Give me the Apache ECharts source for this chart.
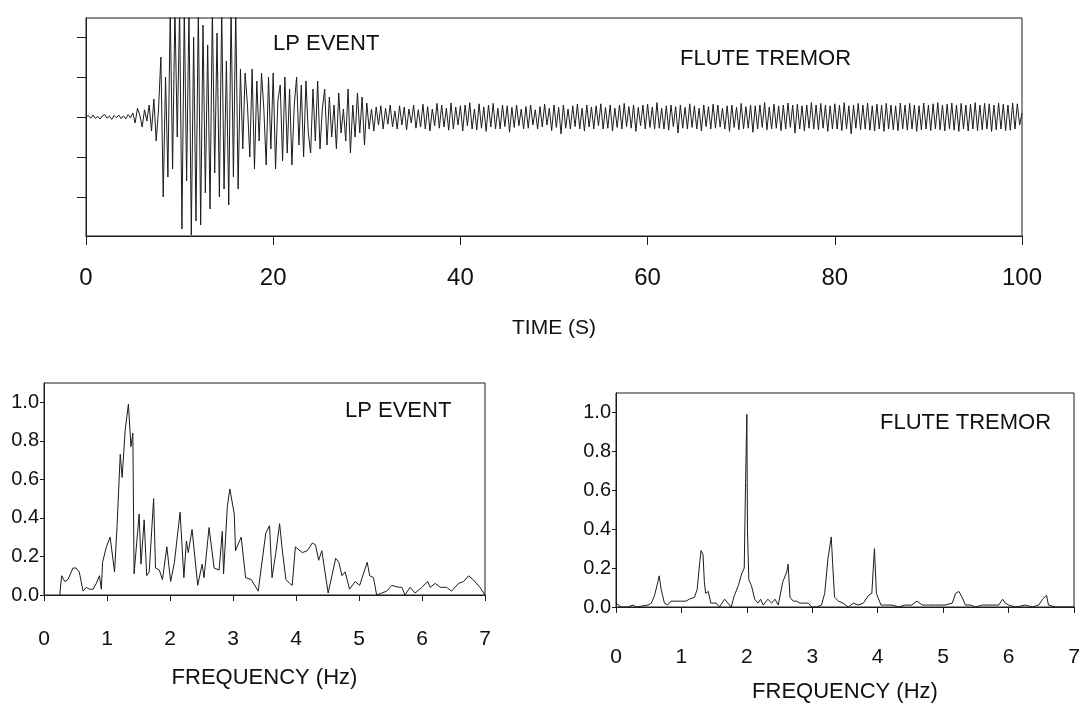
<!DOCTYPE html>
<html><head><meta charset="utf-8">
<script src="https://cdn.jsdelivr.net/npm/echarts@6/dist/echarts.min.js"></script>
<style>html,body{margin:0;padding:0;background:#fff}#c{width:1090px;height:704px}</style>
</head><body><div id="c"></div>
<script>
// ---------- DATA ----------
const timeStep = 0.25; // seconds between samples
const seismoValues = [
  0.00,0.04,-0.03,0.05,-0.04,0.02,-0.05,0.03,0.06,-0.03,0.02,-0.06,0.04,-0.02,0.05,-0.04,0.03,-0.05,0.06,-0.02,
  0.10,-0.15,0.22,0.05,-0.25,0.18,-0.10,0.30,
  -0.35,0.45,-0.6,0.2,
  1.5,-2.0,1.0,-1.5,
  2.7,-1.3,2.7,-0.5,
  2.7,-2.8,2.7,-1.6,
  2.7,-2.95,2.0,-2.6,
  2.7,-2.7,2.3,-1.9,
  1.8,-2.3,2.7,-1.4,
  2.1,-2.0,2.7,-1.8,
  1.4,-2.2,2.7,-1.5,
  2.7,-1.8,1.2,-0.8,
  1.1,0.3,-1.0,1.2,
  -1.3,0.9,-0.6,1.1,
  0.2,-1.2,1.0,-0.8,
  1.1,-1.3,0.4,0.8,
  -1.1,1.0,-0.9,0.7,
  -1.2,0.3,1.0,-0.7,
  0.8,-1.0,0.9,-0.4,
  -0.9,0.7,-0.6,0.9,
  -0.8,0.2,0.7,-0.7,
  0.5,-0.5,0.3,-0.8,
  0.6,-0.4,0.2,-0.6,
  0.7,-0.9,0.3,-0.5,
  0.6,-0.4,0.5,-0.7,
  0.35,-0.3,0.2,-0.35,
  0.25,-0.2,0.28,-0.3,
  0.22,-0.18,0.3,-0.25,0.15,-0.3,0.28,-0.2,
  0.25,-0.32,0.2,-0.15,0.3,-0.28,0.18,-0.25,
  0.32,-0.3,0.26,-0.35,0.2,-0.22,0.34,-0.28,
  0.3,-0.25,0.22,-0.33,0.35,-0.3,0.25,-0.2,
  0.28,-0.35,0.3,-0.22,0.36,-0.3,0.2,-0.32,
  0.33,-0.28,0.25,-0.36,0.3,-0.25,0.34,-0.3,
  0.22,-0.3,0.3,-0.24,0.28,-0.38,0.24,-0.26,
  0.3,-0.22,0.2,-0.3,0.26,-0.28,0.3,-0.2,
  0.18,-0.3,0.26,-0.25,0.32,-0.2,0.22,-0.34,
  0.3,-0.26,0.24,-0.42,0.3,-0.28,0.2,-0.3,
  0.28,-0.24,0.32,-0.3,0.22,-0.35,0.3,-0.25,
  0.25,-0.3,0.28,-0.22,0.33,-0.3,0.24,-0.28,
  0.3,-0.35,0.22,-0.26,0.3,-0.3,0.34,-0.24,
  0.26,-0.28,0.3,-0.36,0.24,-0.22,0.3,-0.3,
  0.32,-0.26,0.25,-0.3,0.36,-0.28,0.22,-0.3,
  0.28,-0.33,0.3,-0.24,0.26,-0.4,0.3,-0.28,
  0.24,-0.3,0.33,-0.26,0.28,-0.3,0.22,-0.35,
  0.3,-0.24,0.26,-0.3,0.32,-0.28,0.3,-0.25,
  0.22,-0.3,0.28,-0.36,0.3,-0.26,0.25,-0.32,
  0.34,-0.3,0.26,-0.28,0.3,-0.38,0.28,-0.3,
  0.3,-0.26,0.36,-0.32,0.25,-0.3,0.32,-0.28,
  0.28,-0.34,0.3,-0.3,0.35,-0.26,0.3,-0.4,
  0.32,-0.3,0.28,-0.35,0.3,-0.28,0.36,-0.3,
  0.3,-0.32,0.34,-0.28,0.3,-0.36,0.28,-0.3,
  0.33,-0.3,0.3,-0.34,0.36,-0.3,0.28,-0.42,
  0.3,-0.28,0.34,-0.32,0.3,-0.3,0.35,-0.33,
  0.28,-0.35,0.32,-0.3,0.3,-0.36,0.34,-0.3,
  0.3,-0.32,0.28,-0.34,0.35,-0.3,0.3,-0.33,
  0.34,-0.3,0.3,-0.36,0.28,-0.32,0.35,-0.3,
  0.3,-0.34,0.33,-0.3,0.36,-0.32,0.3,-0.35,
  0.32,-0.3,0.35,-0.33,0.3,-0.36,0.34,-0.3,
  0.3,-0.35,0.32,-0.3,0.36,-0.34,0.3,-0.32,
  0.34,-0.3,0.33,-0.36,0.3,-0.32,0.35,-0.3,
  0.32,-0.34,0.3,-0.33,0.35,-0.3,0.33,-0.2,
  0.1
];
const timeTickValues = [0, 20, 40, 60, 80, 100];
const seismoTickValues = [-2, -1, 0, 1, 2];

const lpFreq = [0.25,0.28,0.33,0.38,0.46,0.51,0.56,0.62,0.67,0.72,0.78,0.83,0.88,0.91,0.93,0.99,1.05,1.12,1.16,1.21,1.24,1.29,1.34,1.38,1.41,1.43,1.46,1.51,1.54,1.59,1.63,1.67,1.74,1.77,1.83,1.88,1.95,2.01,2.07,2.16,2.22,2.26,2.29,2.35,2.44,2.51,2.54,2.62,2.70,2.78,2.83,2.85,2.91,2.95,3.02,3.04,3.09,3.13,3.20,3.29,3.40,3.52,3.58,3.62,3.68,3.74,3.78,3.84,3.90,3.94,3.99,4.10,4.18,4.20,4.26,4.31,4.36,4.41,4.51,4.63,4.68,4.73,4.78,4.85,4.94,5.01,5.13,5.17,5.23,5.28,5.36,5.44,5.52,5.63,5.68,5.73,5.81,5.89,6.00,6.09,6.13,6.21,6.29,6.39,6.47,6.58,6.66,6.74,6.81,6.92,7.00];
const lpAmp  = [0.00,0.10,0.07,0.08,0.14,0.14,0.12,0.02,0.04,0.03,0.03,0.06,0.10,0.03,0.17,0.25,0.30,0.12,0.36,0.73,0.61,0.86,0.99,0.77,0.84,0.11,0.10,0.42,0.16,0.39,0.10,0.12,0.50,0.14,0.13,0.08,0.25,0.07,0.17,0.43,0.09,0.28,0.22,0.34,0.05,0.16,0.09,0.35,0.14,0.13,0.33,0.11,0.46,0.55,0.42,0.23,0.27,0.30,0.09,0.08,0.02,0.32,0.36,0.09,0.22,0.37,0.24,0.08,0.06,0.05,0.25,0.22,0.23,0.22,0.27,0.26,0.18,0.23,0.01,0.19,0.17,0.10,0.12,0.03,0.07,0.05,0.17,0.10,0.09,0.00,0.01,0.02,0.05,0.04,0.04,0.00,0.04,0.01,0.04,0.07,0.04,0.06,0.04,0.04,0.02,0.06,0.07,0.10,0.08,0.04,0.00];

const fluteFreq = [0.00,0.03,0.08,0.18,0.26,0.31,0.49,0.54,0.59,0.64,0.66,0.69,0.74,0.79,0.84,0.92,1.00,1.07,1.12,1.20,1.24,1.28,1.30,1.33,1.35,1.37,1.41,1.45,1.48,1.53,1.58,1.66,1.71,1.76,1.81,1.87,1.92,1.96,1.98,2.00,2.01,2.03,2.07,2.12,2.17,2.21,2.25,2.32,2.38,2.43,2.48,2.55,2.61,2.63,2.66,2.71,2.76,2.81,2.86,2.94,2.99,3.07,3.14,3.19,3.24,3.29,3.31,3.34,3.40,3.47,3.55,3.63,3.70,3.78,3.86,3.91,3.95,3.98,4.01,4.05,4.11,4.22,4.32,4.42,4.52,4.60,4.68,4.78,4.88,5.03,5.14,5.19,5.24,5.29,5.34,5.42,5.49,5.60,5.75,5.85,5.91,5.95,6.00,6.11,6.26,6.36,6.46,6.52,6.58,6.61,6.72,7.00];
const fluteAmp  = [0.02,0.01,0.00,0.00,0.01,0.00,0.01,0.02,0.06,0.13,0.16,0.09,0.02,0.01,0.03,0.03,0.03,0.03,0.04,0.05,0.09,0.23,0.29,0.27,0.13,0.07,0.08,0.02,0.03,0.02,0.00,0.04,0.02,0.00,0.06,0.11,0.17,0.20,0.64,0.99,0.39,0.14,0.11,0.04,0.02,0.04,0.01,0.04,0.02,0.04,0.01,0.13,0.18,0.22,0.05,0.03,0.03,0.02,0.02,0.02,0.00,0.00,0.01,0.07,0.25,0.36,0.23,0.05,0.03,0.02,0.00,0.02,0.01,0.02,0.06,0.07,0.30,0.07,0.06,0.01,0.01,0.01,0.00,0.01,0.01,0.03,0.01,0.01,0.01,0.01,0.02,0.07,0.08,0.05,0.01,0.01,0.00,0.01,0.01,0.01,0.04,0.02,0.01,0.00,0.01,0.00,0.01,0.04,0.06,0.01,0.00,0.00];

const freqTickValues = [0, 1, 2, 3, 4, 5, 6, 7];
const ampTickValues = [0, 0.2, 0.4, 0.6, 0.8, 1.0];

// ---------- CHART ----------
const FONT = 'Liberation Sans, Arial, sans-serif';
const INK = '#1c1c1c';
const chart = echarts.init(document.getElementById('c'), null, {renderer: 'canvas'});

const seismoData = seismoValues.map((v, i) => [i * timeStep, v]);
const lpData = lpFreq.map((f, i) => [f, lpAmp[i]]);
const fluteData = fluteFreq.map((f, i) => [f, fluteAmp[i]]);

function lineAxis() { return {show: true, onZero: false, lineStyle: {color: INK, width: 1}}; }

const freqX = (grid, gap, nameGap) => ({
  gridIndex: grid, type: 'value', min: 0, max: 7, interval: 1,
  axisLine: lineAxis(),
  axisTick: {show: true, inside: false, length: 6, lineStyle: {color: INK}},
  axisLabel: {margin: gap, fontSize: 21, color: '#111', fontFamily: FONT, customValues: freqTickValues},
  splitLine: {show: false},
  name: 'FREQUENCY (Hz)', nameLocation: 'middle', nameGap: nameGap,
  nameTextStyle: {fontSize: 22, color: '#111', fontFamily: FONT}
});
const ampY = (grid) => ({
  gridIndex: grid, type: 'value', min: 0, max: 1.1,
  axisLine: lineAxis(),
  axisTick: {show: true, inside: false, length: 4, customValues: ampTickValues, lineStyle: {color: INK}},
  axisLabel: {margin: 5, fontSize: 20, color: '#111', fontFamily: FONT,
    customValues: ampTickValues, formatter: v => v.toFixed(1)},
  splitLine: {show: false}
});

const option = {
  animation: false,
  backgroundColor: '#fff',
  title: [
    {text: 'LP EVENT', left: 273, top: 33, padding: 0, textStyle: {fontSize: 22, fontWeight: 'normal', color: '#111', fontFamily: FONT}},
    {text: 'FLUTE TREMOR', left: 680, top: 48, padding: 0, textStyle: {fontSize: 22, fontWeight: 'normal', color: '#111', fontFamily: FONT}},
    {text: 'LP EVENT', left: 345, top: 400, padding: 0, textStyle: {fontSize: 22, fontWeight: 'normal', color: '#111', fontFamily: FONT}},
    {text: 'FLUTE TREMOR', left: 880, top: 412, padding: 0, textStyle: {fontSize: 22, fontWeight: 'normal', color: '#111', fontFamily: FONT}}
  ],
  grid: [
    {left: 86, top: 18, width: 936, height: 218, show: true, borderColor: INK, borderWidth: 1, containLabel: false},
    {left: 44, top: 383, width: 441, height: 212, show: true, borderColor: INK, borderWidth: 1, containLabel: false},
    {left: 616, top: 393, width: 458, height: 216, show: true, borderColor: INK, borderWidth: 1, containLabel: false}
  ],
  xAxis: [
    {gridIndex: 0, type: 'value', min: 0, max: 100, interval: 20,
      axisLine: lineAxis(),
      axisTick: {show: true, inside: false, length: 9, lineStyle: {color: INK}},
      axisLabel: {margin: 30, fontSize: 24, color: '#111', fontFamily: FONT,
        customValues: timeTickValues},
      splitLine: {show: false},
      name: 'TIME (S)', nameLocation: 'middle', nameGap: 82,
      nameTextStyle: {fontSize: 21, color: '#111', fontFamily: FONT}},
    freqX(1, 34, 72),
    freqX(2, 40, 74)
  ],
  yAxis: [
    {gridIndex: 0, type: 'value', min: -2.975, max: 2.475,
      axisLine: lineAxis(),
      axisTick: {show: true, inside: false, length: 9, customValues: seismoTickValues, lineStyle: {color: INK}},
      axisLabel: {show: false},
      splitLine: {show: false}},
    ampY(1),
    ampY(2)
  ],
  series: [
    {type: 'line', xAxisIndex: 0, yAxisIndex: 0, data: seismoData, showSymbol: false, symbol: 'none',
      lineStyle: {color: INK, width: 1}, clip: true},
    {type: 'line', xAxisIndex: 1, yAxisIndex: 1, data: lpData, showSymbol: false, symbol: 'none',
      lineStyle: {color: INK, width: 1}, clip: false},
    {type: 'line', xAxisIndex: 2, yAxisIndex: 2, data: fluteData, showSymbol: false, symbol: 'none',
      lineStyle: {color: INK, width: 1}, clip: false}
  ]
};
chart.setOption(option);
</script>
</body></html>
